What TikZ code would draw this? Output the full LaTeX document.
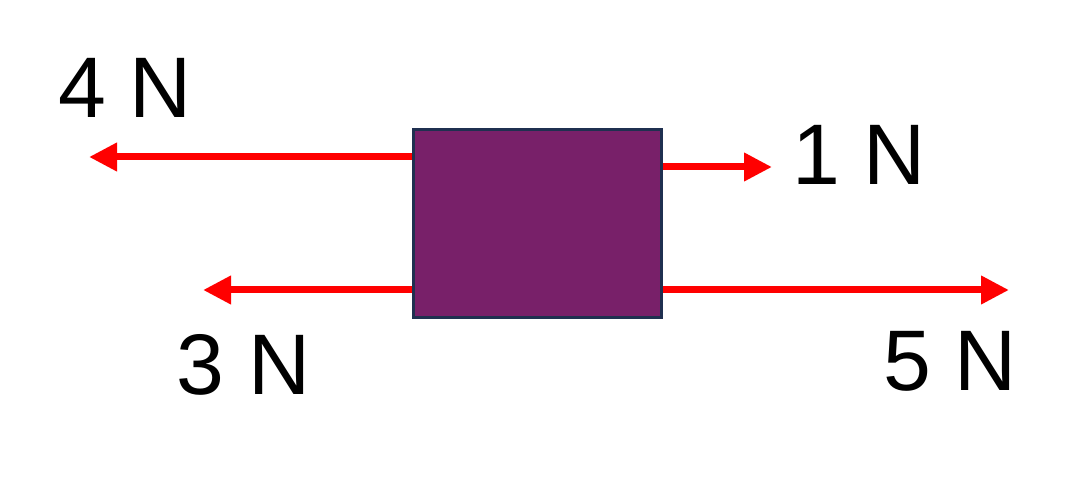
\documentclass[tikz,border=0pt]{standalone}
\usepackage{fontspec}
\setmainfont{Liberation Sans}
\usetikzlibrary{arrows.meta,backgrounds}
\definecolor{boxfill}{HTML}{782069}
\definecolor{boxline}{HTML}{1F3050}
\definecolor{forcered}{HTML}{FF0000}
\tikzset{
  force/.style={draw=forcered, line width=7pt, -{Triangle[length=28pt,width=27pt]}},
  lbl/.style={inner sep=0pt, anchor=base, font=\fontsize{86}{86}\selectfont},
  block/.style={draw=boxline, line width=3pt, fill=boxfill, minimum width=248pt, minimum height=188pt, inner sep=0pt}
}
\begin{document}
\begin{tikzpicture}[x=1pt,y=-1pt]
\useasboundingbox (0,0) rectangle (1080,481);
\coordinate (t4) at (89,157);
\coordinate (t1) at (772,167);
\coordinate (t3) at (203,290);
\coordinate (t5) at (1009,290);
\node[block] (box) at (537,224) {};
\begin{scope}[on background layer]
\draw[force] (box.west |- t4) -- (t4);
\draw[force] (box.east |- t1) -- (t1);
\draw[force] (box.west |- t3) -- (t3);
\draw[force] (box.east |- t5) -- (t5);
\end{scope}
\node[lbl] (l4) at (125,118) {4 N};
\node[lbl] (l1) at (859,185) {1 N};
\node[lbl] (l3) at (243.5,395) {3 N};
\node[lbl] (l5) at (950,390) {5 N};
\end{tikzpicture}
\end{document}
